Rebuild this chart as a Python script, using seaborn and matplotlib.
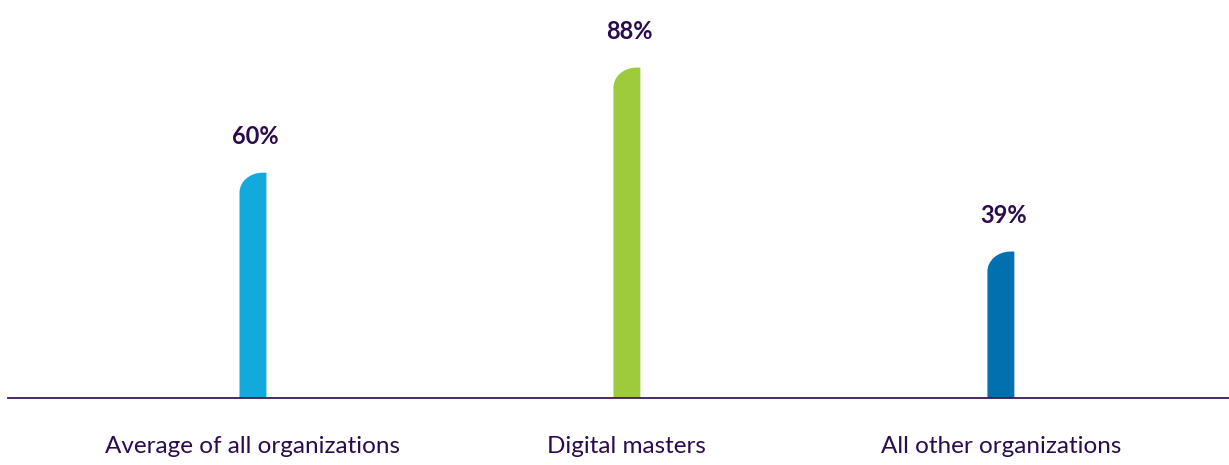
import matplotlib
matplotlib.use("Agg")
import matplotlib.pyplot as plt
import seaborn as sns
import pandas as pd
from matplotlib.path import Path
from matplotlib.patches import PathPatch

# data
categories = ["Average of all organizations", "Digital masters", "All other organizations"]
values = [60, 88, 39]
labels = ["60%", "88%", "39%"]
colors = ["#12aadb", "#9dcb3b", "#0071ae"]

text_color = "#2b0b4d"

sns.set_style("white")
plt.rcParams["font.family"] = ["Lato", "DejaVu Sans"]

df = pd.DataFrame({"category": categories, "value": values})

fig = plt.figure(figsize=(12.29, 4.65), dpi=100)
ax = fig.add_axes([8 / 1229, 67 / 465, 1 - 8 / 1229, 398 / 465])

sns.barplot(data=df, x="category", y="value", hue="category", palette=colors,
            width=0.072, legend=False, ax=ax, saturation=1)

ax.set_xlim(-0.655, 2.61)
ax.set_ylim(0, 106)

# round the top-left corner of each bar
px_per_unit_y = fig.bbox.height * (398 / 465) / 106
for p in list(ax.patches):
    x0, y0 = p.get_x(), p.get_y()
    w, h = p.get_width(), p.get_height()
    rx = 0.85 * w
    ry = 20 / px_per_unit_y
    k = 0.5523
    top = y0 + h
    verts = [
        (x0, y0),
        (x0, top - ry),
        (x0, top - ry + k * ry), (x0 + rx - k * rx, top), (x0 + rx, top),
        (x0 + w, top),
        (x0 + w, y0),
        (x0, y0),
    ]
    codes = [Path.MOVETO, Path.LINETO, Path.CURVE4, Path.CURVE4, Path.CURVE4,
             Path.LINETO, Path.LINETO, Path.CLOSEPOLY]
    ax.add_patch(PathPatch(Path(verts, codes), facecolor=p.get_facecolor(),
                           edgecolor="none", zorder=2))
    p.remove()

for i, (v, lab) in enumerate(zip(values, labels)):
    ax.annotate(lab, (i, v), xytext=(2, 18), textcoords="offset points",
                ha="center", va="bottom", fontsize=17, fontweight="bold",
                color=text_color)

for s in ["top", "left", "right"]:
    ax.spines[s].set_visible(False)
ax.spines["bottom"].set_color("#3a1a5c")
ax.spines["bottom"].set_linewidth(1.3)

ax.set_yticks([])
ax.set_xlabel("")
ax.set_ylabel("")
ax.tick_params(axis="x", length=0, pad=27, labelsize=17.5, labelcolor=text_color)

fig.savefig("out.png", dpi=100)
